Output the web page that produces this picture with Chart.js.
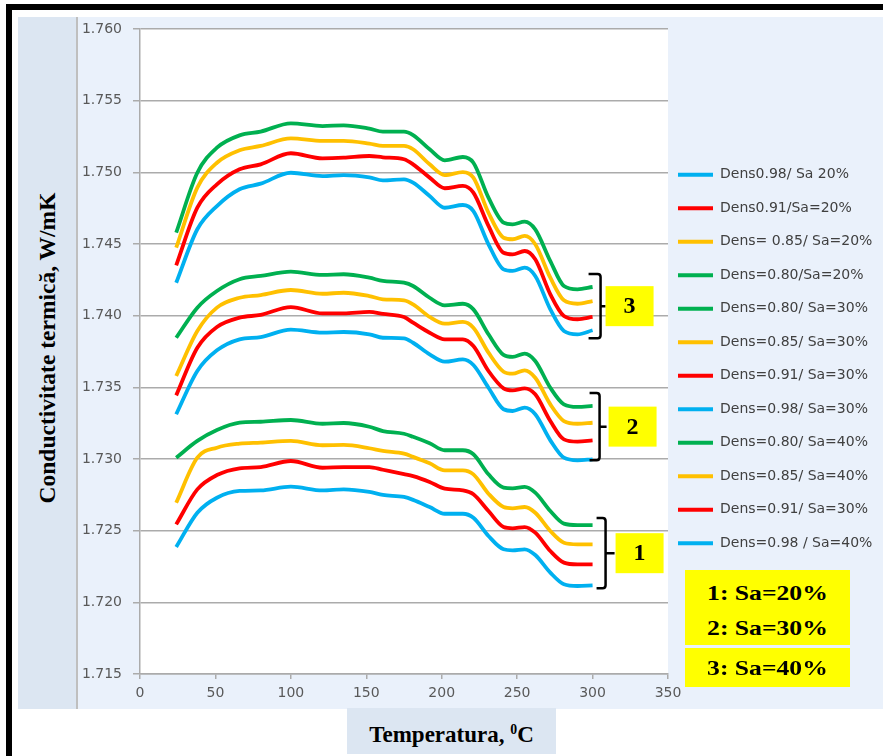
<!DOCTYPE html>
<html>
<head>
<meta charset="utf-8">
<title>Conductivitate termica</title>
<script src="https://cdn.jsdelivr.net/npm/chart.js@4.4.1/dist/chart.umd.min.js"></script>
<style>
  html, body { margin: 0; padding: 0; }
  body { width: 883px; height: 756px; overflow: hidden; position: relative; background: #fff; }
  .frame { position: absolute; left: 6px; top: 4px; width: 900px; height: 760px; border: 6px solid #000; box-sizing: border-box; }
  .ypanel { position: absolute; left: 18px; top: 17px; width: 58px; height: 692px; background: #DCE6F2; border-right: 2px solid #BFBFBF; }
  .plotpanel { position: absolute; left: 78px; top: 17px; width: 805px; height: 692px; background: #EAF1FB; }
  #chart-wrap { position: absolute; left: 78px; top: 17px; width: 805px; height: 692px; }
  .ytitle { position: absolute; left: 47px; top: 348px; transform: translate(-50%, -50%) rotate(-90deg);
            white-space: nowrap; font: bold 23.5px "Liberation Serif", serif; color: #000; }
  .xtitle { position: absolute; left: 347px; top: 708px; width: 209px; height: 42px; padding-top: 4px;
            background: #DCE6F2; font: bold 23px "Liberation Serif", serif; text-align: center; line-height: 46px; }
  .xtitle .sup { font-size: 0.6em; position: relative; top: -0.6em; }
  .sabox { position: absolute; left: 685px; width: 165px; background: #FFFF00; }
  .saline { position: absolute; left: 0; width: 165px; text-align: center; font: bold 21px "Liberation Serif", serif;
            line-height: 24px; color: #000; }
  .saline span { display: inline-block; transform: scaleX(1.22); }
</style>
</head>
<body>
<div class="frame"></div>
<div class="ypanel"></div>
<div class="ytitle">Conductivitate termică, W/mK</div>
<div class="plotpanel"></div>
<div id="chart-wrap"><canvas id="tcChart"></canvas></div>
<div class="xtitle">Temperatura, <span class="sup">0</span>C</div>
<div class="sabox" style="top:570px;height:75px;">
  <div class="saline" style="top:11px;"><span>1: Sa=20%</span></div>
  <div class="saline" style="top:46px;"><span>2: Sa=30%</span></div>
</div>
<div class="sabox" style="top:648px;height:39px;">
  <div class="saline" style="top:8px;"><span>3: Sa=40%</span></div>
</div>

<script>
// ---- data ----
const TEMP = [24, 38, 51, 66, 80, 100, 121, 135, 152, 161, 175, 181, 192, 202, 214, 221, 231, 241, 247, 255, 262, 272, 281, 290, 300];

// Sa = 20 % (lower bundle)
const D98_SA20 = [1.72386, 1.72625, 1.72730, 1.72777, 1.72781, 1.72807, 1.72781, 1.72788, 1.72770, 1.72749, 1.72735, 1.72715, 1.72665, 1.72618, 1.72618, 1.72590, 1.72463, 1.72370, 1.72363, 1.72370, 1.72330, 1.72207, 1.72126, 1.72114, 1.72119];
const D91_SA20 = [1.72544, 1.72788, 1.72888, 1.72935, 1.72944, 1.72986, 1.72939, 1.72944, 1.72944, 1.72925, 1.72895, 1.72881, 1.72840, 1.72793, 1.72781, 1.72754, 1.72637, 1.72525, 1.72516, 1.72525, 1.72486, 1.72358, 1.72277, 1.72265, 1.72265];
const D85_SA20 = [1.72695, 1.73009, 1.73079, 1.73107, 1.73114, 1.73126, 1.73096, 1.73098, 1.73075, 1.73056, 1.73037, 1.73015, 1.72970, 1.72921, 1.72921, 1.72893, 1.72758, 1.72665, 1.72656, 1.72665, 1.72625, 1.72498, 1.72416, 1.72405, 1.72405];
const D80_SA20 = [1.73009, 1.73126, 1.73202, 1.73253, 1.73260, 1.73272, 1.73246, 1.73251, 1.73225, 1.73195, 1.73176, 1.73155, 1.73110, 1.73061, 1.73061, 1.73033, 1.72893, 1.72800, 1.72795, 1.72805, 1.72765, 1.72637, 1.72549, 1.72539, 1.72539];

// Sa = 30 % (middle bundle)
const D80_SA30 = [1.73846, 1.74056, 1.74172, 1.74254, 1.74277, 1.74307, 1.74284, 1.74289, 1.74265, 1.74242, 1.74230, 1.74207, 1.74125, 1.74072, 1.74083, 1.74044, 1.73870, 1.73726, 1.73712, 1.73735, 1.73684, 1.73497, 1.73381, 1.73363, 1.73370];
const D85_SA30 = [1.73579, 1.73893, 1.74056, 1.74125, 1.74144, 1.74179, 1.74153, 1.74160, 1.74137, 1.74114, 1.74107, 1.74079, 1.73991, 1.73944, 1.73956, 1.73916, 1.73742, 1.73609, 1.73595, 1.73619, 1.73567, 1.73381, 1.73265, 1.73246, 1.73253];
const D91_SA30 = [1.73444, 1.73776, 1.73921, 1.73986, 1.74005, 1.74060, 1.74016, 1.74016, 1.74026, 1.74012, 1.73990, 1.73951, 1.73881, 1.73835, 1.73835, 1.73788, 1.73614, 1.73493, 1.73479, 1.73493, 1.73451, 1.73265, 1.73137, 1.73121, 1.73130];
const D98_SA30 = [1.73312, 1.73614, 1.73758, 1.73835, 1.73851, 1.73902, 1.73881, 1.73886, 1.73870, 1.73846, 1.73842, 1.73811, 1.73730, 1.73679, 1.73695, 1.73656, 1.73497, 1.73347, 1.73335, 1.73358, 1.73312, 1.73130, 1.73009, 1.72991, 1.72998];

// Sa = 40 % (upper bundle)
const D80_SA40 = [1.74579, 1.74997, 1.75172, 1.75258, 1.75284, 1.75342, 1.75323, 1.75328, 1.75305, 1.75284, 1.75284, 1.75260, 1.75161, 1.75084, 1.75107, 1.75067, 1.74823, 1.74649, 1.74637, 1.74656, 1.74602, 1.74381, 1.74207, 1.74184, 1.74200];
const D85_SA40 = [1.74474, 1.74893, 1.75067, 1.75154, 1.75184, 1.75237, 1.75219, 1.75219, 1.75200, 1.75184, 1.75184, 1.75161, 1.75056, 1.74981, 1.75002, 1.74963, 1.74718, 1.74544, 1.74533, 1.74556, 1.74498, 1.74265, 1.74107, 1.74083, 1.74102];
const D91_SA40 = [1.74351, 1.74753, 1.74916, 1.75021, 1.75056, 1.75133, 1.75098, 1.75102, 1.75114, 1.75105, 1.75091, 1.75056, 1.74963, 1.74889, 1.74905, 1.74858, 1.74626, 1.74439, 1.74428, 1.74451, 1.74393, 1.74149, 1.73998, 1.73975, 1.73991];
const D98_SA40 = [1.74230, 1.74603, 1.74765, 1.74882, 1.74921, 1.74997, 1.74974, 1.74981, 1.74965, 1.74944, 1.74951, 1.74928, 1.74835, 1.74753, 1.74772, 1.74730, 1.74498, 1.74323, 1.74312, 1.74335, 1.74277, 1.74044, 1.73893, 1.73870, 1.73898];

// legend order as in the original
const LABELS = ['Dens0.98/ Sa 20%', 'Dens0.91/Sa=20%', 'Dens= 0.85/ Sa=20%', 'Dens=0.80/Sa=20%',
                'Dens=0.80/ Sa=30%', 'Dens=0.85/ Sa=30%', 'Dens=0.91/ Sa=30%', 'Dens=0.98/ Sa=30%',
                'Dens=0.80/ Sa=40%', 'Dens=0.85/ Sa=40%', 'Dens=0.91/ Sa=30%', 'Dens=0.98 / Sa=40%'];
const SERIES = [D98_SA20, D91_SA20, D85_SA20, D80_SA20,
                D80_SA30, D85_SA30, D91_SA30, D98_SA30,
                D80_SA40, D85_SA40, D91_SA40, D98_SA40];
const GROUP_TAGS = ['1', '2', '3'];   // one tag per bundle of four series

const Y_MIN = 1.715, Y_MAX = 1.760, Y_STEP = 0.005;
const X_MIN = 0, X_MAX = 350, X_STEP = 50;

// ---- styles ----
const BLUE = '#00B0F0', RED = '#FF0000', ORANGE = '#FFC000', GREEN = '#00B050';
const COLORS = [BLUE, RED, ORANGE, GREEN, GREEN, ORANGE, RED, BLUE, GREEN, ORANGE, RED, BLUE];
const GRID = '#ABABAB';

// brace / yellow tag placement, pixels relative to the end of each bundle
const TAG_LAYOUT = {
  '1': { hook: 4, stem: 13, tip: 22, box: 23, padTop: 7, padBot: 3 },
  '2': { hook: -3, stem: 7, tip: 14, box: 16, padTop: 13, padBot: 1 },
  '3': { hook: -4, stem: 8, tip: 13, box: 13, padTop: 13, padBot: 8 }
};

Chart.defaults.font.family = '"DejaVu Sans", sans-serif';
Chart.defaults.font.size = 14;

const plotBackground = {
  id: 'plotBackground',
  beforeDraw(chart) {
    const { ctx, chartArea: a } = chart;
    ctx.save();
    ctx.fillStyle = '#FFFFFF';
    ctx.fillRect(a.left, a.top, a.right - a.left, a.bottom - a.top);
    ctx.restore();
  }
};

// move the built-in legend to where the original has it
const legendPlacement = {
  id: 'legendPlacement',
  afterLayout(chart) {
    const lg = chart.legend;
    const pad = lg.options.labels.padding;
    lg.left = 600 - pad;
    lg.top = 150.7 - pad;
  }
};

const groupTags = {
  id: 'groupTags',
  afterDraw(chart) {
    const { ctx, scales: { x, y } } = chart;
    const xEnd = x.getPixelForValue(TEMP[TEMP.length - 1]);
    ctx.save();
    GROUP_TAGS.forEach((tag, g) => {
      const ends = SERIES.slice(g * 4, g * 4 + 4).map(s => s[s.length - 1]);
      const L = TAG_LAYOUT[tag];
      const top = y.getPixelForValue(Math.max(...ends)) - L.padTop;
      const bot = y.getPixelForValue(Math.min(...ends)) + L.padBot;
      const mid = (top + bot) / 2;
      const hx = xEnd + L.hook, sx = xEnd + L.stem, tx = xEnd + L.tip, r = 3;
      ctx.strokeStyle = '#000';
      ctx.lineWidth = 2.5;
      ctx.beginPath();
      ctx.moveTo(hx, top);
      ctx.lineTo(sx - r, top);
      ctx.quadraticCurveTo(sx, top, sx, top + r);
      ctx.lineTo(sx, bot - r);
      ctx.quadraticCurveTo(sx, bot, sx - r, bot);
      ctx.lineTo(hx, bot);
      ctx.moveTo(sx, mid);
      ctx.lineTo(tx, mid);
      ctx.stroke();
      const bw = 48, bh = 40, bx = xEnd + L.box, by = mid - bh / 2;
      ctx.fillStyle = '#FFFF00';
      ctx.fillRect(bx, by, bw, bh);
      ctx.fillStyle = '#000';
      ctx.font = 'bold 24px "Liberation Serif", serif';
      ctx.textAlign = 'center';
      ctx.textBaseline = 'middle';
      ctx.fillText(tag, bx + bw / 2, mid + 1);
    });
    ctx.restore();
  }
};

const datasets = SERIES.map((vals, i) => ({
  label: LABELS[i],
  data: TEMP.map((t, k) => ({ x: t, y: vals[k] })),
  borderColor: COLORS[i],
  backgroundColor: COLORS[i],
  borderWidth: 3.8,
  pointRadius: 0,
  fill: false,
  cubicInterpolationMode: 'monotone'
}));

new Chart(document.getElementById('tcChart'), {
  type: 'line',
  data: { datasets },
  options: {
    responsive: true,
    maintainAspectRatio: false,
    animation: false,
    layout: { padding: { top: 12, left: 0, right: 0, bottom: 0 } },
    plugins: {
      tooltip: { enabled: false },
      legend: {
        position: 'right',
        align: 'start',
        maxWidth: 215,
        labels: {
          boxWidth: 35,
          boxHeight: 4,
          padding: 19.5,
          color: '#404040',
          font: { size: 14 },
          generateLabels(chart) {
            return Chart.defaults.plugins.legend.labels.generateLabels(chart)
              .map(item => Object.assign(item, { lineWidth: 0, fillStyle: item.strokeStyle }));
          }
        }
      }
    },
    scales: {
      x: {
        type: 'linear',
        min: X_MIN, max: X_MAX,
        afterFit(s) { s.height = 35; },
        ticks: { stepSize: X_STEP, color: '#595959', padding: 6, font: { size: 14 } },
        grid: { drawOnChartArea: false, drawTicks: true, tickLength: 5, color: GRID, lineWidth: 1.5 },
        border: { color: GRID, width: 1.5 }
      },
      y: {
        min: Y_MIN, max: Y_MAX,
        afterFit(s) { s.width = 62; s.paddingTop = 0; s.paddingBottom = 0; },
        ticks: {
          stepSize: Y_STEP, color: '#595959', padding: 11, font: { size: 14 },
          callback: v => Number(v).toFixed(3)
        },
        grid: { color: GRID, lineWidth: 1.5, tickLength: 7 },
        border: { color: GRID, width: 1.5 }
      }
    }
  },
  plugins: [plotBackground, legendPlacement, groupTags]
});
</script>
</body>
</html>
